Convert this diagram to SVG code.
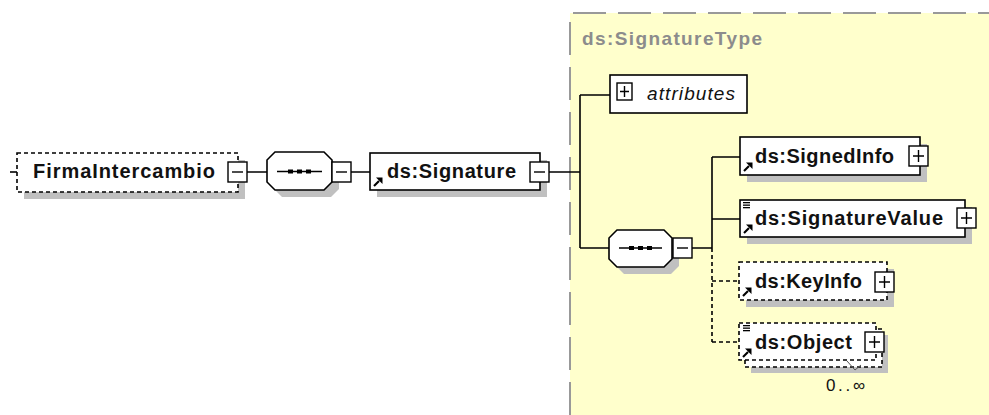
<svg xmlns="http://www.w3.org/2000/svg" xmlns:xlink="http://www.w3.org/1999/xlink" width="989" height="415" viewBox="0 0 989 415">
<style>
.box{fill:#fff;stroke:#000;stroke-width:1.6}
.dbox{fill:#fff;stroke:#000;stroke-width:1.6;stroke-dasharray:4 3}
.shadow{fill:#c0c0c0;stroke:none}
.lbl{font-family:"Liberation Sans",Arial,sans-serif;font-weight:bold;font-size:20px;fill:#111}
.ital{font-family:"Liberation Sans",Arial,sans-serif;font-style:italic;font-size:19px;fill:#111}
.type{font-family:"Liberation Sans",Arial,sans-serif;font-weight:bold;font-size:19px;fill:#8c8c8c}
.occ{font-family:"Liberation Sans",Arial,sans-serif;font-size:17px;fill:#111}
.conn{stroke:#000;stroke-width:1.6;fill:none}
.dconn{stroke:#000;stroke-width:1.6;fill:none;stroke-dasharray:4 3}
.pm{fill:#fff;stroke:#000;stroke-width:1.4}
.pml{stroke:#000;stroke-width:1.4;fill:none}
</style>
<defs>
<g id="refArrow"><path d="M1,9 L6,4" stroke="#000" stroke-width="2.2" fill="none"/><path d="M3,0.5 L9.5,0.5 L9.5,7 Z" fill="#000"/></g>
<g id="simple"><rect x="0" y="0" width="7" height="1.3" fill="#000"/><rect x="0" y="2.5" width="7" height="1.3" fill="#000"/><rect x="0" y="5" width="7" height="1.3" fill="#000"/></g>
<g id="minus"><rect class="pm" x="0" y="0" width="19" height="20"/><path class="pml" d="M4,10 H15"/></g>
<g id="plus"><rect class="pm" x="0" y="0" width="19" height="20"/><path class="pml" d="M4,10 H15 M9.5,4 V16"/></g>
</defs>
<rect x="0" y="0" width="989" height="415" fill="#fff"/>

<g id="complexType">
<rect x="570" y="13" width="430" height="410" fill="#ffffcc"/>
<path d="M570,415 V13 H989" fill="none" stroke="#999" stroke-width="2" stroke-dasharray="33 12"/>
<text class="type" x="582" y="45" textLength="180" lengthAdjust="spacing">ds:SignatureType</text>
</g>

<g id="connectors">
<path class="conn" d="M247,172 H267 M350,172 H370 M549,172 H580 M580,95 V248 M580,95 H610 M580,248 H609 M692,248 H712 M712,157 V248 M712,157 H740 M712,219 H740"/>
<path class="dconn" d="M712,248 V342 M712,281 H739 M712,342 H739"/>
</g>

<g id="FirmaIntercambio">
<rect class="shadow" x="24" y="160" width="221" height="39"/>
<rect class="dbox" x="17" y="153" width="221" height="39"/>
<path class="conn" d="M10,172 H17"/>
<text class="lbl" x="33" y="178" textLength="182" lengthAdjust="spacing">FirmaIntercambio</text>
<use xlink:href="#minus" x="228" y="162"/>
</g>

<g id="sequence1">
<polygon class="shadow" points="282,159 331,159 339,167 339,189 331,197 282,197 274,189 274,167"/>
<polygon class="box" points="275,152 324,152 332,160 332,182 324,190 275,190 267,182 267,160"/>
<path class="conn" d="M277,171.5 H322"/>
<rect x="288" y="169.5" width="5" height="4" fill="#000"/>
<rect x="297" y="169.5" width="5" height="4" fill="#000"/>
<rect x="306" y="169.5" width="5" height="4" fill="#000"/>
<use xlink:href="#minus" x="332" y="162"/>
</g>

<g id="dsSignature">
<rect class="shadow" x="377" y="160" width="170" height="37"/>
<rect class="box" x="370" y="153" width="170" height="37"/>
<use xlink:href="#refArrow" x="373" y="177"/>
<text class="lbl" x="387" y="178" textLength="129" lengthAdjust="spacing">ds:Signature</text>
<use xlink:href="#minus" x="530" y="162"/>
</g>

<g id="attributes">
<rect class="box" x="610" y="75" width="137" height="38"/>
<rect class="pm" x="617" y="83" width="15" height="17"/>
<path class="pml" d="M620,91.5 H629 M624.5,86 V97"/>
<text class="ital" x="647" y="100" textLength="88" lengthAdjust="spacing">attributes</text>
</g>

<g id="sequence2">
<polygon class="shadow" points="624,237 671,237 679,245 679,266 671,274 624,274 616,266 616,245"/>
<polygon class="box" points="617,230 664,230 672,238 672,259 664,267 617,267 609,259 609,238"/>
<path class="conn" d="M619,248 H662"/>
<rect x="629" y="246" width="5" height="4" fill="#000"/>
<rect x="638" y="246" width="5" height="4" fill="#000"/>
<rect x="647" y="246" width="5" height="4" fill="#000"/>
<use xlink:href="#minus" x="673" y="238"/>
</g>

<g id="dsSignedInfo">
<rect class="shadow" x="747" y="144" width="180" height="38"/>
<rect class="box" x="740" y="137" width="180" height="38"/>
<use xlink:href="#refArrow" x="743" y="162"/>
<text class="lbl" x="755" y="163" textLength="139" lengthAdjust="spacing">ds:SignedInfo</text>
<use xlink:href="#plus" x="909" y="146"/>
</g>

<g id="dsSignatureValue">
<rect class="shadow" x="747" y="207" width="225" height="37"/>
<rect class="box" x="740" y="200" width="225" height="37"/>
<use xlink:href="#simple" x="743" y="202"/>
<use xlink:href="#refArrow" x="743" y="224"/>
<text class="lbl" x="755" y="225" textLength="188" lengthAdjust="spacing">ds:SignatureValue</text>
<use xlink:href="#plus" x="957" y="208"/>
</g>

<g id="dsKeyInfo">
<rect class="shadow" x="746" y="269" width="148" height="38"/>
<rect class="dbox" x="739" y="262" width="148" height="38"/>
<use xlink:href="#refArrow" x="742" y="287"/>
<text class="lbl" x="755" y="288" textLength="107" lengthAdjust="spacing">ds:KeyInfo</text>
<use xlink:href="#plus" x="875" y="272"/>
</g>

<g id="dsObject">
<rect class="shadow" x="751" y="335" width="137" height="38"/>
<rect class="dbox" x="745" y="329" width="137" height="38"/>
<rect class="dbox" x="739" y="323" width="137" height="37"/>
<use xlink:href="#simple" x="743" y="325"/>
<use xlink:href="#refArrow" x="742" y="348"/>
<text class="lbl" x="755" y="349" textLength="97" lengthAdjust="spacing">ds:Object</text>
<use xlink:href="#plus" x="865" y="332"/>
<path d="M847,361 L855,370 L861,365" fill="none" stroke="#555" stroke-width="1"/>
<text class="occ" x="826" y="391" textLength="39" lengthAdjust="spacing">0..∞</text>
</g>
</svg>
